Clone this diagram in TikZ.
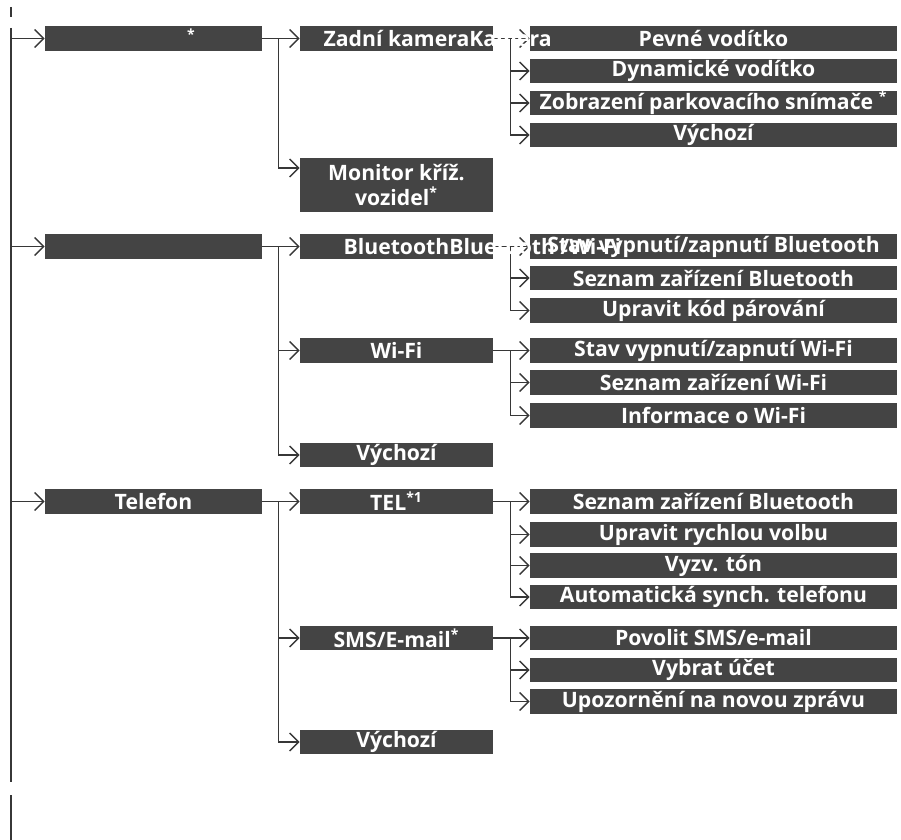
\documentclass[tikz,border=0pt]{standalone}
\usepackage{fontspec}
\setmainfont{Open Sans}
\usetikzlibrary{arrows.meta}

\definecolor{boxgray}{RGB}{68,68,68}
\definecolor{linegray}{RGB}{55,55,55}
\newcommand{\note}[1]{\textsuperscript{\fontsize{7}{7}\selectfont #1}}

\pgfdeclarelayer{bg}
\pgfsetlayers{bg,main}

\begin{document}
\begin{tikzpicture}[x=0.5pt,y=-0.5pt,
    box/.style={fill=boxgray,text=white,font=\bfseries\fontsize{10.6}{12.5}\selectfont,inner xsep=0pt,inner ysep=0pt,minimum height=12.3pt},
    top/.style={box,minimum width=108.5pt},
    mid/.style={box,minimum width=96.5pt},
    sub/.style={box,minimum width=183.5pt},
    line/.style={draw=linegray,line width=0.7pt},
    arr/.style={line,-{Straight Barb[length=4.5pt,width=9pt,line width=0.7pt]}}]
    \useasboundingbox (0,0) rectangle (901,840);

    % Kamera
    \node[sub] (pev) at (713.5,38.5) {Pevné vodítko};
    \node[sub] (dyn) at (713.5,71) {Dynamické vodítko};
    \node[sub] (zob) at (713.5,103) {Zobrazení parkovacího snímače \note{*}};
    \node[sub] (vy1) at (713.5,135) {Výchozí};
    \node[top] (cam) at (153.5,38.5) {\hspace*{38pt}\note{*}};
    \node[mid] (zk) at (396.5,38.5) {Zadní kamera\rlap{Kamera}};
    \node[mid,minimum height=27pt,align=center] (mon) at (396.5,185) {Monitor kříž.\\vozidel\note{*}};

    % Bluetooth / Wi-Fi
    \node[sub] (sbt) at (713.5,246.5) {Stav vypnutí/zapnutí Bluetooth};
    \node[sub] (lbt) at (713.5,278) {Seznam zařízení Bluetooth};
    \node[sub] (kod) at (713.5,310.5) {Upravit kód párování};
    \node[sub] (swf) at (713.5,350.5) {Stav vypnutí/zapnutí Wi-Fi};
    \node[sub] (lwf) at (713.5,382.5) {Seznam zařízení Wi-Fi};
    \node[sub] (iwf) at (713.5,415.5) {Informace o Wi-Fi};
    \node[top] (con) at (153.5,246.5) {};
    \node[mid] (bt) at (396.5,246.5) {Bluetooth\rlap{Bluetooth /Wi-Fi}};
    \node[mid] (wf) at (396.5,350.5) {Wi-Fi};
    \node[mid] (vy2) at (396.5,455) {Výchozí};

    % Telefon
    \node[sub] (tbt) at (713.5,501.5) {Seznam zařízení Bluetooth};
    \node[sub] (rv) at (713.5,534.5) {Upravit rychlou volbu};
    \node[sub] (ton) at (713.5,565.5) {Vyzv. tón};
    \node[sub] (syn) at (713.5,597) {Automatická synch. telefonu};
    \node[sub] (pov) at (713.5,638) {Povolit SMS/e-mail};
    \node[sub] (uc) at (713.5,670) {Vybrat účet};
    \node[sub] (upo) at (713.5,701.5) {Upozornění na novou zprávu};
    \node[top] (tel) at (153.5,501.5) {Telefon};
    \node[mid] (tl) at (396.5,501.5) {TEL\note{*1}};
    \node[mid] (sms) at (396.5,638) {SMS/E-mail\note{*}};
    \node[mid] (vy3) at (396.5,742) {Výchozí};

    \begin{pgfonlayer}{bg}
    % trunk
    \coordinate (trunk) at (11,0);
    \draw[line] (11,7) -- (11,17);
    \draw[line] (11,28) -- (11,782);
    \draw[line] (11,795) -- (11,840);
    \foreach \n in {cam,con,tel}
        \draw[arr] (trunk |- \n) -- (\n);

    \path [arr] (cam) edge (zk) (zk) edge (pev);
    \draw[arr] (cam.east) ++(8pt,0) |- ([yshift=8.5pt]mon.west);
    \foreach \n in {dyn,zob,vy1}
        \draw[arr] (zk.east) ++(8.5pt,0) |- (\n.west);

    \path [arr] (con) edge (bt) (bt) edge (sbt) (wf) edge (swf);
    \foreach \n in {wf,vy2}
        \draw[arr] (con.east) ++(8pt,0) |- (\n.west);
    \foreach \n in {lbt,kod}
        \draw[arr] (bt.east) ++(8.5pt,0) |- (\n.west);
    \foreach \n in {lwf,iwf}
        \draw[arr] (wf.east) ++(8.5pt,0) |- (\n.west);

    \path [arr] (tel) edge (tl) (tl) edge (tbt) (sms) edge (pov);
    \foreach \n in {sms,vy3}
        \draw[arr] (tel.east) ++(8pt,0) |- (\n.west);
    \foreach \n in {rv,ton,syn}
        \draw[arr] (tl.east) ++(8.5pt,0) |- (\n.west);
    \foreach \n in {uc,upo}
        \draw[arr] (sms.east) ++(8.5pt,0) |- (\n.west);
    \end{pgfonlayer}
\end{tikzpicture}
\end{document}
